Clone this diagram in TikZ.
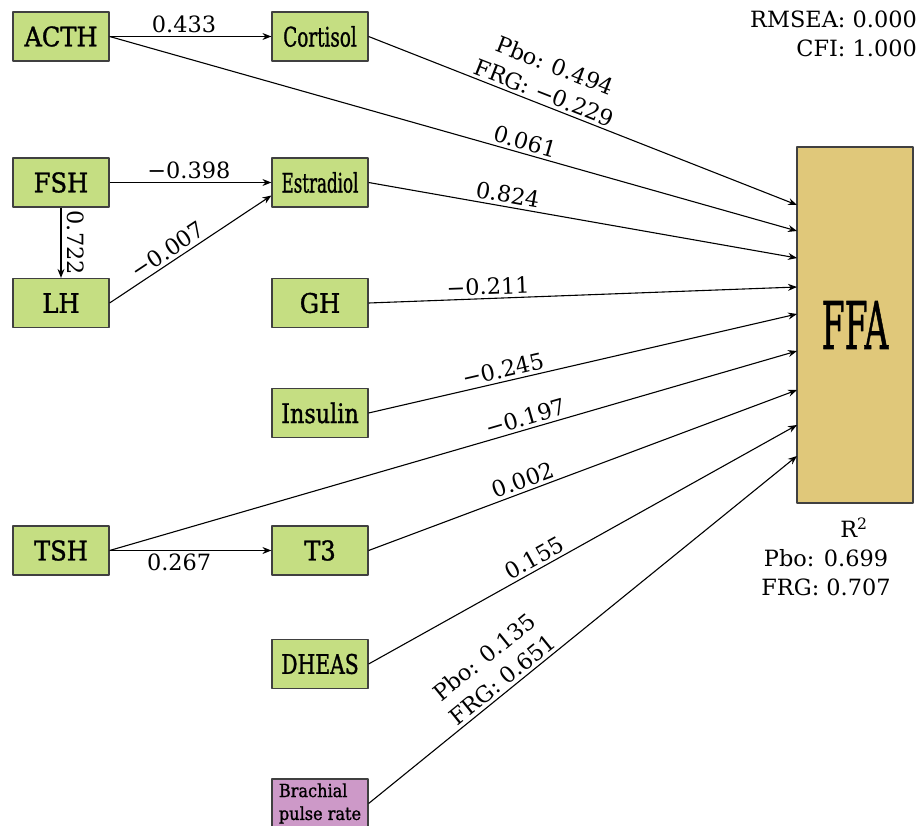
\documentclass[tikz,border=0pt]{standalone}
\usepackage{fontspec}
\setmainfont{DejaVu Serif}
\newfontfamily\boxfont[FakeBold=1.2]{DejaVu Serif Condensed}
\usetikzlibrary{arrows.meta}
\definecolor{boxgreen}{RGB}{197,222,130}
\definecolor{boxpink}{RGB}{205,153,200}
\definecolor{ffagold}{RGB}{224,200,122}
\definecolor{boxline}{RGB}{64,64,64}
\begin{document}
\begin{tikzpicture}[x=1bp,y=-1bp,line join=round,
	var/.style={draw=boxline,line width=1.2bp,fill=boxgreen,minimum width=96bp,minimum height=49bp,inner sep=0pt,font=\boxfont\fontsize{27}{30}\selectfont},
	arr/.style={line width=1.1bp,-{Stealth[length=9bp,width=7bp,inset=3bp]}},
	lbl/.style={font=\fontsize{22.5}{29}\selectfont,inner sep=3bp,align=center}]
		\useasboundingbox (0,0) rectangle (923,826);
		\node[var] (ACTH) at (61,36.5) {ACTH};
		\node[var] (Cortisol) at (320,36.5) {\scalebox{0.76}[1]{Cortisol}};
		\node[var] (FSH) at (61,182.5) {FSH};
		\node[var] (Estradiol) at (320,182.5) {\scalebox{0.69}[1]{Estradiol}};
		\node[var] (LH) at (61,303) {LH};
		\node[var] (GH) at (320,303) {GH};
		\node[var] (Insulin) at (320,413) {\scalebox{0.92}[1]{Insulin}};
		\node[var] (TSH) at (61,550.5) {TSH};
		\node[var] (T3) at (320,550.5) {T3};
		\node[var] (DHEAS) at (320,664) {\scalebox{0.84}[1]{DHEAS}};
		\node[var,fill=boxpink,align=left,font=\boxfont\fontsize{18}{23}\selectfont] (Brachial) at (320,803.5) {Brachial\\pulse rate};
		\node[draw=boxline,line width=1.2bp,fill=ffagold,minimum width=116bp,minimum height=356bp,font=\boxfont\fontsize{66}{66}\selectfont] (FFA) at (855,325) {\scalebox{0.56}[1]{FFA}};
		\foreach \n/\y in {1/205,2/231,3/258,4/287,5/314,6/351,7/390,8/425,9/456} \coordinate (in\n) at (797,\y);
		\draw[arr] (ACTH) -- (Cortisol) node[lbl,above,pos=0.46] {0.433};
		\draw[arr] (FSH) -- (Estradiol) node[lbl,above,pos=0.49] {−0.398};
		\draw[arr] (FSH) -- (LH) node[lbl,sloped,above=3bp,pos=0.5] {0.722};
		\draw[arr] (LH.east) -- (Estradiol.-165) node[lbl,sloped,above,pos=0.4] {−0.007};
		\draw[arr] (TSH) -- (T3) node[lbl,below,pos=0.43] {0.267};
		\draw[arr] (Cortisol.east) -- (in1) node[lbl,sloped,above,pos=0.4] {Pbo: 0.494\\FRG: −0.229};
		\draw[arr] (ACTH.east) -- (in2) node[lbl,sloped,above,pos=0.6] {0.061};
		\draw[arr] (Estradiol.east) -- (in3) node[lbl,sloped,above,pos=0.32] {0.824};
		\draw[arr] (GH.east) -- (in4) node[lbl,sloped,above,pos=0.28] {−0.211};
		\draw[arr] (Insulin.east) -- (in5) node[lbl,sloped,above,pos=0.32] {−0.245};
		\draw[arr] (TSH.east) -- (in6) node[lbl,sloped,above,pos=0.61] {−0.197};
		\draw[arr] (T3.east) -- (in7) node[lbl,sloped,above,pos=0.37] {0.002};
		\draw[arr] (DHEAS.east) -- (in8) node[lbl,sloped,above,pos=0.4] {0.155};
		\draw[arr] (Brachial.east) -- (in9) node[lbl,sloped,above,pos=0.33] {Pbo: 0.135\\FRG: 0.651};
		\node[lbl,anchor=north east,align=right] (fit) at (920,8) {RMSEA: 0.000\\CFI: 1.000};
		\node[lbl,anchor=north] (r2) at (826,515) {\hspace*{56bp}R\textsuperscript{2}\\Pbo: 0.699\\FRG: 0.707};
	\end{tikzpicture}
\end{document}
